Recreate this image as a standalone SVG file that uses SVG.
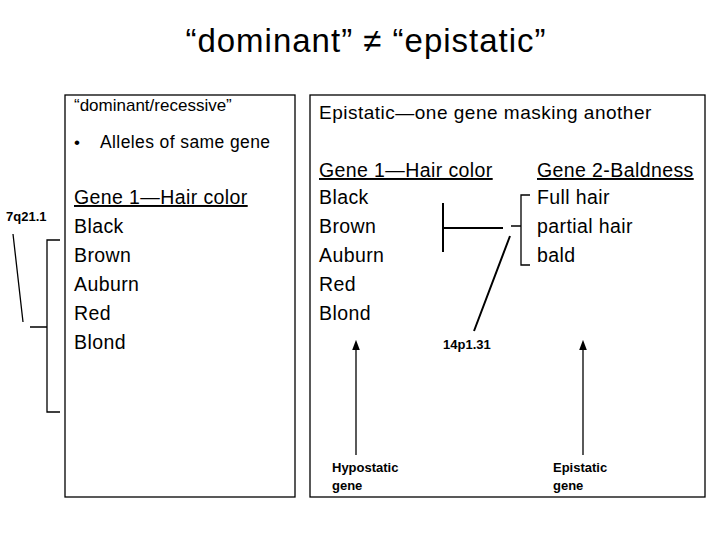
<svg xmlns="http://www.w3.org/2000/svg" width="720" height="540" viewBox="0 0 720 540">
<style>
text{font-family:"Liberation Sans",Arial,sans-serif;fill:#000}
.t{font-size:19.5px;letter-spacing:0.4px}.s{font-size:13px;font-weight:bold}
.ln{stroke:#000;fill:none;stroke-width:1.3}
</style>
<defs><marker id="a" markerWidth="8" markerHeight="8" refX="4" refY="4" orient="auto"><path d="M0,1 L8,4 L0,7Z" fill="#000"/></marker></defs>
<rect width="720" height="540" fill="#fff"/>
<text x="366" y="52" font-size="33" letter-spacing="1" text-anchor="middle">“dominant” ≠ “epistatic”</text>
<g id="left"><rect x="65" y="95" width="230" height="402" class="ln"/>
<text x="74" y="111" font-size="17">“dominant/recessive”</text>
<text x="74" y="148" font-size="17">•</text>
<text x="100" y="148" font-size="17.5" letter-spacing="0.4">Alleles of same gene</text>
<text x="74" y="204" class="t" text-decoration="underline">Gene 1—Hair color</text>
<text x="74" y="233" class="t">Black</text><text x="74" y="262" class="t">Brown</text><text x="74" y="291" class="t">Auburn</text><text x="74" y="320" class="t">Red</text><text x="74" y="349" class="t">Blond</text></g>
<g id="right"><rect x="310" y="95" width="395" height="402" class="ln"/>
<text x="319" y="119" font-size="19" letter-spacing="0.5">Epistatic—one gene masking another</text>
<text x="319" y="177" class="t" text-decoration="underline">Gene 1—Hair color</text>
<text x="319" y="204" class="t">Black</text><text x="319" y="233" class="t">Brown</text><text x="319" y="262" class="t">Auburn</text><text x="319" y="291" class="t">Red</text><text x="319" y="320" class="t">Blond</text>
<text x="537" y="177" class="t" text-decoration="underline">Gene 2-Baldness</text>
<text x="537" y="204" class="t">Full hair</text><text x="537" y="233" class="t">partial hair</text><text x="537" y="262" class="t">bald</text></g>
<g id="labels"><text x="6" y="221" class="s">7q21.1</text><text x="443" y="349" class="s">14p1.31</text>
<text x="332" y="472" class="s">Hypostatic</text><text x="332" y="490" class="s">gene</text>
<text x="553" y="472" class="s">Epistatic</text><text x="553" y="490" class="s">gene</text></g>
<g id="connectors">
<path class="ln" d="M13,234 L23,322 M30,327 L47,327 M60,240 L47,240 L47,412 L60,412"/>
<path stroke="#000" stroke-width="2" fill="none" d="M443,203 V252 M443,228 H503 M474,331 L510,236"/>
<path class="ln" d="M530,195 H521 V265 H530 M511,226 H521"/>
<path class="ln" d="M356,455 V345" marker-end="url(#a)"/>
<path class="ln" d="M583,455 V345" marker-end="url(#a)"/>
</g>
</svg>
